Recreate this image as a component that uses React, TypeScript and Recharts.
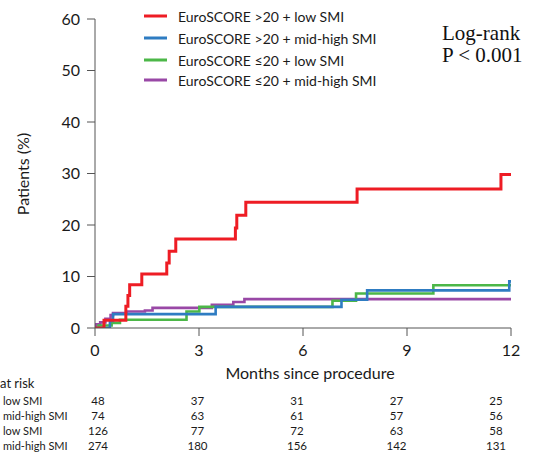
import { LineChart, Line, XAxis, YAxis } from "recharts";

// axis ticks
const monthTicks = [0, 3, 6, 9, 12];
const pctTicks = [0, 10, 20, 30, 40, 50, 60];

// cumulative incidence (%) step points: [month, percent]
const highLow: [number, number][] = [
  [0, 0], [0.26, 1.5], [0.89, 4.2], [0.95, 6.3], [1.0, 8.4], [1.35, 10.5],
  [2.07, 12.6], [2.14, 14.9], [2.33, 17.3], [4.05, 19.4], [4.09, 21.9],
  [4.35, 24.4], [7.56, 27.0], [11.71, 29.8], [12, 29.8],
];
const highMid: [number, number][] = [
  [0, 0], [0.43, 1.35], [0.52, 2.7], [3.48, 4.1], [7.11, 5.5], [7.85, 7.3],
  [11.95, 9.05], [12, 9.05],
];
const lowLow: [number, number][] = [
  [0, 0], [0.1, 0.5], [0.48, 1.0], [0.72, 1.6], [2.64, 3.2], [3.01, 4.1],
  [6.85, 5.3], [7.53, 6.7], [9.76, 8.3], [12, 8.3],
];
const lowMid: [number, number][] = [
  [0, 0], [0.02, 0.7], [0.15, 1.1], [0.3, 1.8], [0.45, 2.5], [0.52, 2.9],
  [0.91, 3.2], [1.44, 3.4], [1.66, 3.9], [3.37, 4.5], [3.99, 5.05],
  [4.31, 5.6], [12, 5.6],
];

const groupNames = [
  "EuroSCORE >20 + low SMI",
  "EuroSCORE >20 + mid-high SMI",
  "EuroSCORE \u226420 + low SMI",
  "EuroSCORE \u226420 + mid-high SMI",
];
const groupColors = ["#ee1c24", "#2e7cc2", "#4cb748", "#9948a6"];

// number at risk
const riskLabels = ["low SMI", "mid-high SMI", "low SMI", "mid-high SMI"];
const riskRows = [
  [48, 37, 31, 27, 25],
  [74, 63, 61, 57, 56],
  [126, 77, 72, 63, 58],
  [274, 180, 156, 142, 131],
];

const toRows = (pts: [number, number][]) => pts.map(([t, p]) => ({ t, p }));

const series = [
  { data: toRows(lowMid), color: groupColors[3], w: 2.6 },
  { data: toRows(lowLow), color: groupColors[2], w: 2.6 },
  { data: toRows(highMid), color: groupColors[1], w: 2.6 },
  { data: toRows(highLow), color: groupColors[0], w: 3 },
];

const FONT = "Lato, 'Open Sans', sans-serif";
const tickStyle = { fill: "#1a1a1a", fontSize: 16, fontFamily: FONT };

export default function App() {
  return (
    <div
      style={{
        position: "absolute",
        left: 0,
        top: 0,
        width: 533,
        height: 455,
        background: "#fff",
        fontFamily: FONT,
        color: "#1a1a1a",
        overflow: "hidden",
      }}
    >
      <LineChart width={533} height={455} margin={{ top: 19, right: 22, bottom: 97, left: 35 }}>
        <XAxis
          type="number"
          dataKey="t"
          domain={[0, 12]}
          ticks={monthTicks}
          allowDataOverflow
          height={30}
          tickSize={8}
          tickMargin={9}
          stroke="#555"
          tick={tickStyle}
        />
        <YAxis
          type="number"
          domain={[0, 60]}
          ticks={pctTicks}
          allowDataOverflow
          width={60}
          tickSize={8}
          tickMargin={7}
          stroke="#555"
          tick={tickStyle}
        />
        {series.map((s, i) => (
          <Line
            key={i}
            data={s.data}
            dataKey="p"
            type="stepAfter"
            stroke={s.color}
            strokeWidth={s.w}
            dot={false}
            activeDot={false}
            isAnimationActive={false}
          />
        ))}
      </LineChart>

      {/* y label */}
      <div
        style={{
          position: "absolute",
          left: 22,
          top: 174,
          transform: "translate(-50%, -50%) rotate(-90deg)",
          fontSize: 16,
          whiteSpace: "nowrap",
        }}
      >
        Patients (%)
      </div>

      {/* x label */}
      <div
        style={{
          position: "absolute",
          left: 310,
          top: 372,
          transform: "translate(-50%, -50%)",
          fontSize: 16,
          whiteSpace: "nowrap",
        }}
      >
        Months since procedure
      </div>

      {/* legend */}
      {groupNames.map((name, i) => (
        <div
          key={name}
          style={{
            position: "absolute",
            left: 144,
            top: [16, 37.5, 60, 80][i],
            transform: "translateY(-50%)",
            display: "flex",
            alignItems: "center",
            fontSize: 14,
            whiteSpace: "nowrap",
          }}
        >
          <span style={{ width: 23, height: 3, background: groupColors[i], marginRight: 11 }} />
          {name}
        </div>
      ))}

      {/* log-rank */}
      <div
        style={{
          position: "absolute",
          left: 442,
          top: 22,
          fontFamily: "'Liberation Serif', 'DejaVu Serif', serif",
          fontSize: 21,
          lineHeight: "22px",
          color: "#111",
          whiteSpace: "nowrap",
        }}
      >
        <div>Log-rank</div>
        <div>P &lt; 0.001</div>
      </div>

      {/* number at risk */}
      <div style={{ position: "absolute", left: 0, top: 383, transform: "translateY(-50%)", fontSize: 13 }}>
        at risk
      </div>
      {riskRows.map((row, r) => (
        <div key={r}>
          <div
            style={{
              position: "absolute",
              left: 3,
              top: 400 + r * 15,
              transform: "translateY(-50%)",
              fontSize: 11,
              whiteSpace: "nowrap",
            }}
          >
            {riskLabels[r]}
          </div>
          {row.map((v, c) => (
            <div
              key={c}
              style={{
                position: "absolute",
                left: 98 + c * 99.5,
                top: 400 + r * 15,
                transform: "translate(-50%, -50%)",
                fontSize: 11.5,
              }}
            >
              {v}
            </div>
          ))}
        </div>
      ))}
    </div>
  );
}
